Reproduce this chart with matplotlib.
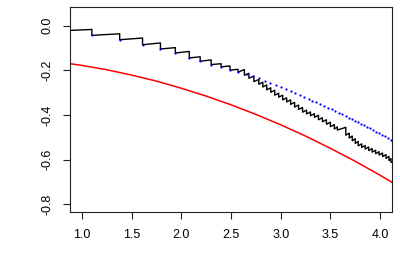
import numpy as np
import matplotlib
matplotlib.use('Agg')
import matplotlib.pyplot as plt

plt.rcParams['font.family'] = ['Liberation Sans', 'DejaVu Sans']

# black path: start level, then at each jump time the level just before and just after
start_x, start_y = 0.85, -0.0215
jump_x = [1.10, 1.38, 1.61, 1.79, 1.94, 2.08, 2.19, 2.30, 2.40, 2.49, 2.57, 2.635,
          2.68, 2.73, 2.78, 2.82, 2.86, 2.90, 2.94, 2.98, 3.02, 3.06, 3.10, 3.14,
          3.18, 3.22, 3.26, 3.30, 3.34, 3.38, 3.42, 3.46, 3.50, 3.54, 3.57, 3.655,
          3.69, 3.72, 3.75, 3.78, 3.815, 3.85, 3.885, 3.92, 3.955, 3.99, 4.025, 4.06,
          4.09, 4.11]
high = [-0.0165, -0.036, -0.055, -0.077, -0.098, -0.115, -0.139, -0.153, -0.170, -0.180, -0.195, -0.196,
        -0.213, -0.226, -0.241, -0.253, -0.265, -0.278, -0.289, -0.302, -0.311, -0.323, -0.332, -0.343,
        -0.355, -0.366, -0.378, -0.386, -0.394, -0.401, -0.412, -0.421, -0.432, -0.443, -0.453, -0.455,
        -0.481, -0.494, -0.506, -0.518, -0.529, -0.536, -0.543, -0.550, -0.557, -0.564, -0.570, -0.577,
        -0.585, -0.595]
low = [-0.043, -0.0625, -0.085, -0.104, -0.122, -0.144, -0.159, -0.174, -0.184, -0.199, -0.208, -0.222,
       -0.235, -0.250, -0.262, -0.274, -0.287, -0.298, -0.311, -0.320, -0.332, -0.341, -0.352, -0.364,
       -0.375, -0.387, -0.395, -0.403, -0.410, -0.421, -0.430, -0.441, -0.452, -0.462, -0.467, -0.490,
       -0.503, -0.515, -0.527, -0.538, -0.545, -0.552, -0.559, -0.566, -0.573, -0.579, -0.586, -0.594,
       -0.604, -0.612]
end_x, end_y = 4.15, -0.606

# blue points
blue_x = [1.10, 1.38, 1.61, 1.79, 1.94, 2.08, 2.19, 2.30, 2.40, 2.49, 2.57,
          2.66, 2.72, 2.78, 2.84, 2.895, 2.95, 3.0, 3.05, 3.10, 3.145, 3.19, 3.235,
          3.28, 3.32, 3.36, 3.40, 3.44, 3.48, 3.515, 3.55, 3.585, 3.62, 3.655, 3.69,
          3.72, 3.75, 3.78, 3.81, 3.84, 3.87, 3.90, 3.93, 3.96, 3.99, 4.02, 4.05,
          4.08, 4.11]
blue_y = [-0.043, -0.0625, -0.085, -0.104, -0.122, -0.144, -0.159, -0.174, -0.184, -0.199, -0.208,
          -0.216, -0.226, -0.236, -0.246, -0.255, -0.265, -0.274, -0.283, -0.292, -0.301, -0.309, -0.318,
          -0.327, -0.335, -0.343, -0.351, -0.359, -0.367, -0.375, -0.382, -0.390, -0.397, -0.405, -0.412,
          -0.419, -0.426, -0.433, -0.439, -0.446, -0.453, -0.460, -0.467, -0.474, -0.482, -0.489, -0.496,
          -0.503, -0.511]

# red curve
red_x = [0.85, 1.0, 1.25, 1.5, 1.75, 2.0, 2.25, 2.5, 2.75, 3.0, 3.25, 3.5, 3.75, 4.0, 4.15]
red_y = [-0.168, -0.1775, -0.197, -0.221, -0.248, -0.280, -0.315, -0.354, -0.397, -0.4435,
         -0.494, -0.549, -0.607, -0.6695, -0.709]

# build the sawtooth vertices
px = [start_x]
py = [start_y]
for xj, h, l in zip(jump_x, high, low):
    px += [xj, xj]
    py += [h, l]
px.append(end_x)
py.append(end_y)

fig = plt.figure(figsize=(4, 2.8), dpi=100)
ax = fig.add_axes([0.175, 0.243, 0.805, 0.732])

ax.plot(red_x, red_y, color='red', linewidth=1.1)
ax.plot(px, py, color='black', linewidth=1.0)
ax.plot(blue_x, blue_y, 'o', color='blue', markersize=1.6, markeredgewidth=0)

ax.set_xlim(0.88, 4.12)
ax.set_ylim(-0.834, 0.084)
ax.set_xticks([1.0, 1.5, 2.0, 2.5, 3.0, 3.5, 4.0])
ax.set_yticks([0.0, -0.2, -0.4, -0.6, -0.8])
ax.set_xticklabels(['1.0', '1.5', '2.0', '2.5', '3.0', '3.5', '4.0'])
ax.set_yticklabels(['0.0', '-0.2', '-0.4', '-0.6', '-0.8'], rotation=90, va='center')
ax.tick_params(direction='out', length=5, width=0.8, labelsize=9, pad=7, color='#222222')
for s in ax.spines.values():
    s.set_linewidth(0.8)
    s.set_color('#222222')

fig.savefig('out.png', dpi=100)
